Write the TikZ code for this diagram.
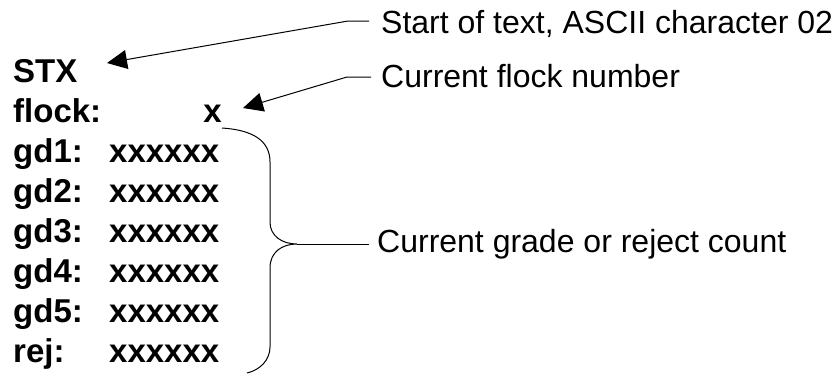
\documentclass[tikz,border=0pt]{standalone}
\usepackage{fontspec}
\setmainfont{Liberation Sans}
\usetikzlibrary{arrows.meta}
\begin{document}
\begin{tikzpicture}[x=1pt,y=-1pt,
  fld/.style={inner sep=0pt,font=\fontsize{33}{40}\selectfont\bfseries},
  note/.style={inner sep=0pt,font=\fontsize{32}{38}\selectfont},
  lead/.style={line width=1pt},
  arr/.style={lead,-{Triangle[length=20pt,width=19pt]}}]
\useasboundingbox (0,0) rectangle (836,373);
% left column
\node[fld,anchor=base west] (stx) at (13,82) {STX};
\node[fld,anchor=base west] (flockl) at (13,122) {flock:};
\node[fld,anchor=base east] (flockv) at (222,122) {x};
\node[fld,anchor=base west] (g1l) at (13,162) {gd1:};
\node[fld,anchor=base west] (g1v) at (109,162) {xxxxxx};
\node[fld,anchor=base west] (g2l) at (13,202) {gd2:};
\node[fld,anchor=base west] (g2v) at (109,202) {xxxxxx};
\node[fld,anchor=base west] (g3l) at (13,242) {gd3:};
\node[fld,anchor=base west] (g3v) at (109,242) {xxxxxx};
\node[fld,anchor=base west] (g4l) at (13,282) {gd4:};
\node[fld,anchor=base west] (g4v) at (109,282) {xxxxxx};
\node[fld,anchor=base west] (g5l) at (13,322) {gd5:};
\node[fld,anchor=base west] (g5v) at (109,322) {xxxxxx};
\node[fld,anchor=base west] (rejl) at (13,362) {rej:};
\node[fld,anchor=base west] (rejv) at (109,362) {xxxxxx};
% notes
\node[note,anchor=base west] (n1) at (381,33) {Start of text, ASCII character 02};
\node[note,anchor=base west] (n2) at (381,87) {Current flock number};
\node[note,anchor=base west] (n3) at (377,252) {Current grade or reject count};
% leaders
\coordinate (e1) at (369,21);
\coordinate (k1) at (348,21);
\coordinate (t1) at (107,63);
\coordinate (e2) at (371,77);
\coordinate (k2) at (347,77);
\coordinate (t2) at (243,108);
\draw[arr] (e1) -- (k1) -- (t1);
\draw[arr] (e2) -- (k2) -- (t2);
% brace
\coordinate (bt) at (222,128);
\coordinate (bm) at (297,244);
\coordinate (bb) at (247,373);
\coordinate (e3) at (369,244);
\draw[lead] (bt) .. controls (252,130) and (270,140) .. (270,162)
  -- (270,222) .. controls (270,236) and (282,244) .. (bm)
  .. controls (282,244) and (270,252) .. (270,268)
  -- (270,347) .. controls (270,360) and (260,370) .. (bb);
\draw[lead] (bm) -- (e3);
\end{tikzpicture}
\end{document}
